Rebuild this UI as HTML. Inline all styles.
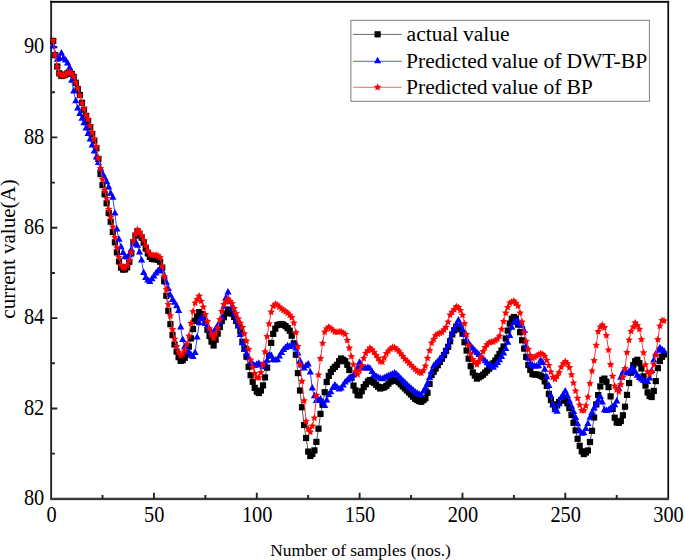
<!DOCTYPE html>
<html><head><meta charset="utf-8"><style>
html,body{margin:0;padding:0;background:#fff;}
svg{display:block;}
text{font-family:"Liberation Serif",serif;fill:#000;}
</style></head><body>
<svg width="685" height="560" viewBox="0 0 685 560">
<defs>
<marker id="sq" markerUnits="userSpaceOnUse" markerWidth="10" markerHeight="10" refX="5" refY="5" overflow="visible"><rect x="1.90" y="1.90" width="6.2" height="6.2" fill="#000"/></marker>
<marker id="tr" markerUnits="userSpaceOnUse" markerWidth="10" markerHeight="10" refX="5" refY="5" overflow="visible"><path d="M5 0.40000000000000036L8.6 6.9H1.4Z" fill="#0000ff"/></marker>
<marker id="st" markerUnits="userSpaceOnUse" markerWidth="10" markerHeight="10" refX="5" refY="5" overflow="visible"><path d="M5.00 1.00L6.09 3.50L8.80 3.76L6.76 5.57L7.35 8.24L5.00 6.85L2.65 8.24L3.24 5.57L1.20 3.76L3.91 3.50Z" fill="#ff0000"/></marker>
</defs>
<rect x="50.22" y="0.86" width="1.85" height="498" fill="#202020"/>
<rect x="667.35" y="0.86" width="1.75" height="498" fill="#101010"/>
<rect x="50.22" y="0.86" width="618.88" height="2.0" fill="#111"/>
<rect x="50.22" y="497.74" width="618.88" height="2.43" fill="#3a3a3a"/>
<path d="M102.52 498.85V495.05M153.94 498.85V492.65M205.36 498.85V495.05M256.78 498.85V492.65M308.20 498.85V495.05M359.62 498.85V492.65M411.05 498.85V495.05M462.47 498.85V492.65M513.89 498.85V495.05M565.31 498.85V492.65M616.73 498.85V495.05M51.10 453.67H54.90M51.10 408.49H57.30M51.10 363.31H54.90M51.10 318.13H57.30M51.10 272.95H54.90M51.10 227.77H57.30M51.10 182.59H54.90M51.10 137.41H57.30M51.10 92.23H54.90M51.10 47.05H57.30" stroke="#222" stroke-width="1.9" fill="none"/>
<g font-size="21"><text transform="translate(44.3 505.0) scale(0.97 1.07)" text-anchor="end">80</text><text transform="translate(44.3 414.6) scale(0.97 1.07)" text-anchor="end">82</text><text transform="translate(44.3 324.2) scale(0.97 1.07)" text-anchor="end">84</text><text transform="translate(44.3 233.9) scale(0.97 1.07)" text-anchor="end">86</text><text transform="translate(44.3 143.5) scale(0.97 1.07)" text-anchor="end">88</text><text transform="translate(44.3 53.2) scale(0.97 1.07)" text-anchor="end">90</text><text transform="translate(51.5 521.8) scale(0.97 1.07)" text-anchor="middle">0</text><text transform="translate(154.3 521.8) scale(0.97 1.07)" text-anchor="middle">50</text><text transform="translate(257.2 521.8) scale(0.97 1.07)" text-anchor="middle">100</text><text transform="translate(360.0 521.8) scale(0.97 1.07)" text-anchor="middle">150</text><text transform="translate(462.9 521.8) scale(0.97 1.07)" text-anchor="middle">200</text><text transform="translate(565.7 521.8) scale(0.97 1.07)" text-anchor="middle">250</text><text transform="translate(668.5 521.8) scale(0.97 1.07)" text-anchor="middle">300</text></g>
<text x="360.5" y="556.3" font-size="17.4" text-anchor="middle">Number of samples (nos.)</text>
<text transform="translate(15 249) rotate(-90)" font-size="21" text-anchor="middle">current value(A)</text>
<polyline points="53.2,41.0 55.2,55.2 57.3,66.5 59.3,73.3 61.4,76.0 63.4,75.4 65.5,74.6 67.6,73.2 69.6,72.3 71.7,73.9 73.7,76.9 75.8,82.8 77.8,89.0 79.9,95.0 82.0,102.8 84.0,109.7 86.1,115.9 88.1,121.5 90.2,127.1 92.2,133.8 94.3,140.7 96.4,148.3 98.4,158.9 100.5,174.1 102.5,185.1 104.6,194.2 106.6,203.3 108.7,213.0 110.7,221.7 112.8,232.0 114.9,242.3 116.9,252.4 119.0,261.5 121.0,267.6 123.1,269.6 125.1,269.4 127.2,267.3 129.3,261.8 131.3,253.4 133.4,242.2 135.4,235.7 137.5,231.3 139.5,234.1 141.6,237.7 143.7,242.7 145.7,248.5 147.8,253.4 149.8,256.9 151.9,258.9 153.9,259.3 156.0,259.1 158.1,259.9 160.1,261.7 162.2,267.6 164.2,281.2 166.3,295.8 168.3,310.8 170.4,324.2 172.5,335.0 174.5,344.5 176.6,351.6 178.6,357.2 180.7,360.9 182.7,360.2 184.8,357.8 186.9,354.7 188.9,346.6 191.0,338.4 193.0,329.1 195.1,320.8 197.1,316.3 199.2,312.1 201.2,314.1 203.3,316.1 205.4,322.7 207.4,329.8 209.5,336.0 211.5,341.6 213.6,345.5 215.6,339.8 217.7,333.7 219.8,327.1 221.8,321.0 223.9,317.2 225.9,313.4 228.0,309.5 230.0,310.6 232.1,313.7 234.2,316.9 236.2,321.0 238.3,325.1 240.3,331.3 242.4,341.8 244.4,348.3 246.5,356.7 248.6,366.8 250.6,375.2 252.7,381.8 254.7,387.9 256.8,391.6 258.8,393.0 260.9,390.5 263.0,385.4 265.0,377.4 267.1,367.7 269.1,355.6 271.2,342.9 273.2,333.9 275.3,328.7 277.4,325.1 279.4,324.4 281.5,324.0 283.5,324.8 285.6,326.1 287.6,328.1 289.7,330.7 291.7,335.7 293.8,343.3 295.9,354.7 297.9,373.1 300.0,390.5 302.0,407.2 304.1,425.0 306.1,438.0 308.2,451.6 310.3,456.0 312.3,454.0 314.4,450.4 316.4,441.9 318.5,428.7 320.5,413.9 322.6,404.7 324.7,392.2 326.7,382.0 328.8,375.9 330.8,372.0 332.9,368.9 334.9,366.9 337.0,364.8 339.1,361.2 341.1,358.5 343.2,359.8 345.2,361.2 347.3,364.8 349.3,370.0 351.4,377.8 353.5,385.6 355.5,390.4 357.6,395.1 359.6,395.4 361.7,391.3 363.7,387.1 365.8,384.3 367.9,381.5 369.9,380.0 372.0,381.4 374.0,382.8 376.1,384.7 378.1,386.7 380.2,388.5 382.3,387.8 384.3,387.2 386.4,385.8 388.4,383.7 390.5,381.6 392.5,380.8 394.6,380.1 396.6,380.2 398.7,382.3 400.8,384.3 402.8,386.4 404.9,388.4 406.9,390.5 409.0,392.5 411.0,394.6 413.1,396.7 415.2,398.8 417.2,400.1 419.3,401.1 421.3,401.8 423.4,400.1 425.4,398.3 427.5,392.8 429.6,383.9 431.6,375.1 433.7,371.8 435.7,368.5 437.8,365.2 439.8,361.9 441.9,358.7 444.0,355.1 446.0,351.0 448.1,346.9 450.1,341.3 452.2,334.5 454.2,330.3 456.3,326.6 458.4,326.7 460.4,329.3 462.5,333.7 464.5,342.2 466.6,350.5 468.6,358.7 470.7,366.1 472.8,372.4 474.8,375.6 476.9,378.6 478.9,377.3 481.0,376.1 483.0,374.7 485.1,372.6 487.1,370.6 489.2,368.6 491.3,366.0 493.3,363.3 495.4,360.5 497.4,357.5 499.5,354.0 501.5,350.5 503.6,346.5 505.7,338.5 507.7,330.6 509.8,323.6 511.8,318.7 513.9,317.0 515.9,318.5 518.0,324.6 520.1,332.2 522.1,340.3 524.2,348.6 526.2,356.9 528.3,365.0 530.3,369.9 532.4,374.1 534.5,374.5 536.5,374.5 538.6,374.9 540.6,375.7 542.7,377.0 544.7,381.4 546.8,385.9 548.9,393.9 550.9,400.1 553.0,404.3 555.0,407.4 557.1,405.4 559.1,401.9 561.2,400.0 563.3,398.4 565.3,400.7 567.4,403.3 569.4,408.1 571.5,415.0 573.5,422.8 575.6,430.4 577.6,438.8 579.7,445.8 581.8,451.3 583.8,454.1 585.9,452.5 587.9,450.5 590.0,442.0 592.0,430.8 594.1,417.5 596.2,404.5 598.2,395.1 600.3,386.4 602.3,379.9 604.4,378.6 606.4,381.8 608.5,387.1 610.6,396.4 612.6,408.9 614.7,417.7 616.7,422.5 618.8,422.8 620.8,421.0 622.9,415.3 625.0,406.7 627.0,394.9 629.1,383.0 631.1,372.7 633.2,365.2 635.2,361.2 637.3,359.8 639.4,363.2 641.4,368.5 643.5,376.3 645.5,385.6 647.6,392.4 649.6,396.0 651.7,397.0 653.8,390.9 655.8,381.1 657.9,368.1 659.9,360.9 662.0,356.8 664.0,354.5" fill="none" stroke="#555" stroke-width="1" marker-start="url(#sq)" marker-mid="url(#sq)" marker-end="url(#sq)"/>
<polyline points="53.2,46.5 55.2,54.5 57.3,59.9 59.3,58.9 61.4,53.5 63.4,58.5 65.5,60.5 67.6,63.6 69.6,68.1 71.7,80.8 73.7,91.6 75.8,101.4 77.8,108.6 79.9,114.2 82.0,118.8 84.0,123.4 86.1,128.7 88.1,134.1 90.2,139.7 92.2,145.5 94.3,151.5 96.4,157.6 98.4,163.2 100.5,168.8 102.5,174.0 104.6,178.1 106.6,182.2 108.7,187.6 110.7,193.8 112.8,197.8 114.9,213.5 116.9,229.6 119.0,239.8 121.0,247.3 123.1,253.0 125.1,257.1 127.2,257.6 129.3,255.6 131.3,250.1 133.4,244.6 135.4,242.3 137.5,245.9 139.5,252.5 141.6,260.6 143.7,273.2 145.7,278.0 147.8,280.5 149.8,282.0 151.9,279.4 153.9,276.7 156.0,273.5 158.1,271.0 160.1,269.0 162.2,271.5 164.2,276.2 166.3,282.8 168.3,289.2 170.4,295.5 172.5,300.1 174.5,302.9 176.6,306.3 178.6,311.2 180.7,327.5 182.7,340.0 184.8,346.8 186.9,349.8 188.9,352.7 191.0,355.2 193.0,357.2 195.1,353.0 197.1,337.5 199.2,323.4 201.2,317.9 203.3,319.4 205.4,323.5 207.4,326.7 209.5,329.8 211.5,332.8 213.6,332.6 215.6,329.3 217.7,326.0 219.8,322.6 221.8,317.8 223.9,306.9 225.9,298.4 228.0,292.7 230.0,302.3 232.1,308.7 234.2,314.6 236.2,320.6 238.3,326.7 240.3,335.0 242.4,343.3 244.4,350.1 246.5,354.2 248.6,358.4 250.6,362.5 252.7,364.5 254.7,366.1 256.8,364.9 258.8,363.8 260.9,365.6 263.0,367.4 265.0,364.4 267.1,360.8 269.1,355.9 271.2,356.1 273.2,360.2 275.3,360.7 277.4,360.0 279.4,356.7 281.5,353.1 283.5,350.2 285.6,348.2 287.6,346.3 289.7,347.0 291.7,345.8 293.8,344.9 295.9,348.5 297.9,353.7 300.0,361.3 302.0,365.8 304.1,368.6 306.1,366.2 308.2,364.7 310.3,372.5 312.3,388.7 314.4,396.3 316.4,401.1 318.5,400.7 320.5,399.5 322.6,402.9 324.7,406.2 326.7,400.7 328.8,395.2 330.8,392.3 332.9,388.2 334.9,385.5 337.0,387.5 339.1,389.6 341.1,388.5 343.2,385.6 345.2,382.7 347.3,380.6 349.3,379.3 351.4,378.0 353.5,375.7 355.5,373.4 357.6,368.2 359.6,362.9 361.7,365.8 363.7,368.7 365.8,368.6 367.9,368.2 369.9,368.9 372.0,372.1 374.0,375.2 376.1,376.8 378.1,377.8 380.2,378.8 382.3,379.4 384.3,378.4 386.4,377.4 388.4,376.3 390.5,375.4 392.5,374.5 394.6,373.7 396.6,374.8 398.7,376.9 400.8,379.0 402.8,381.0 404.9,383.1 406.9,385.1 409.0,387.1 411.0,388.9 413.1,390.7 415.2,392.5 417.2,393.8 419.3,394.8 421.3,395.3 423.4,391.9 425.4,388.4 427.5,383.8 429.6,378.0 431.6,372.2 433.7,366.4 435.7,364.0 437.8,362.0 439.8,359.9 441.9,357.3 444.0,354.0 446.0,350.7 448.1,345.5 450.1,339.2 452.2,333.8 454.2,329.4 456.3,324.9 458.4,320.7 460.4,325.4 462.5,330.0 464.5,335.0 466.6,340.1 468.6,343.9 470.7,346.3 472.8,348.8 474.8,351.0 476.9,353.1 478.9,355.2 481.0,357.3 483.0,359.3 485.1,361.3 487.1,363.4 489.2,365.0 491.3,366.7 493.3,367.9 495.4,365.5 497.4,363.0 499.5,360.3 501.5,357.0 503.6,353.7 505.7,349.0 507.7,342.8 509.8,336.1 511.8,327.9 513.9,323.2 515.9,321.4 518.0,321.5 520.1,323.9 522.1,326.3 524.2,331.2 526.2,346.6 528.3,358.9 530.3,364.2 532.4,365.7 534.5,366.6 536.5,366.6 538.6,366.4 540.6,360.9 542.7,363.0 544.7,369.8 546.8,377.3 548.9,386.2 550.9,396.1 553.0,405.4 555.0,410.4 557.1,411.9 559.1,404.3 561.2,398.2 563.3,394.9 565.3,391.5 567.4,396.4 569.4,401.6 571.5,406.8 573.5,412.1 575.6,418.2 577.6,424.4 579.7,431.2 581.8,433.9 583.8,433.3 585.9,429.1 587.9,424.0 590.0,417.8 592.0,413.2 594.1,408.7 596.2,404.6 598.2,400.6 600.3,397.0 602.3,402.5 604.4,410.3 606.4,411.1 608.5,410.5 610.6,409.0 612.6,407.4 614.7,405.3 616.7,401.5 618.8,389.2 620.8,377.9 622.9,372.8 625.0,372.2 627.0,373.6 629.1,372.2 631.1,369.9 633.2,368.5 635.2,372.6 637.3,375.9 639.4,378.0 641.4,379.6 643.5,381.2 645.5,382.2 647.6,382.2 649.6,378.6 651.7,371.2 653.8,360.6 655.8,354.5 657.9,350.9 659.9,348.4 662.0,350.0 664.0,351.7" fill="none" stroke="#3a3aff" stroke-width="1" marker-start="url(#tr)" marker-mid="url(#tr)" marker-end="url(#tr)"/>
<polyline points="53.2,40.5 55.2,54.8 57.3,66.4 59.3,73.3 61.4,75.8 63.4,75.3 65.5,74.6 67.6,72.9 69.6,71.8 71.7,73.4 73.7,76.4 75.8,82.3 77.8,88.3 79.9,95.3 82.0,103.0 84.0,108.7 86.1,115.1 88.1,119.1 90.2,125.8 92.2,132.4 94.3,139.1 96.4,146.6 98.4,157.8 100.5,168.4 102.5,179.4 104.6,190.4 106.6,198.4 108.7,209.3 110.7,217.3 112.8,227.0 114.9,237.5 116.9,247.7 119.0,257.3 121.0,265.1 123.1,267.8 125.1,267.4 127.2,265.3 129.3,260.4 131.3,252.3 133.4,240.5 135.4,234.0 137.5,229.5 139.5,232.1 141.6,235.4 143.7,240.2 145.7,245.7 147.8,250.7 149.8,253.9 151.9,255.1 153.9,255.3 156.0,255.0 158.1,255.8 160.1,257.6 162.2,266.2 164.2,276.5 166.3,289.3 168.3,304.5 170.4,315.8 172.5,329.6 174.5,339.1 176.6,346.6 178.6,352.0 180.7,355.6 182.7,353.9 184.8,350.2 186.9,344.0 188.9,335.9 191.0,323.3 193.0,311.5 195.1,303.0 197.1,299.4 199.2,296.1 201.2,301.2 203.3,307.0 205.4,314.5 207.4,321.6 209.5,328.7 211.5,334.7 213.6,338.1 215.6,333.8 217.7,328.1 219.8,319.5 221.8,311.2 223.9,304.6 225.9,301.4 228.0,298.9 230.0,301.2 232.1,303.5 234.2,308.4 236.2,313.4 238.3,318.8 240.3,323.1 242.4,327.5 244.4,333.7 246.5,341.0 248.6,349.2 250.6,360.0 252.7,367.2 254.7,373.6 256.8,377.7 258.8,377.7 260.9,372.6 263.0,364.3 265.0,351.8 267.1,336.5 269.1,323.8 271.2,312.1 273.2,306.2 275.3,303.9 277.4,305.1 279.4,307.1 281.5,308.7 283.5,310.3 285.6,311.6 287.6,312.9 289.7,315.1 291.7,317.6 293.8,323.0 295.9,332.4 297.9,346.5 300.0,364.4 302.0,381.2 304.1,400.8 306.1,421.2 308.2,428.8 310.3,432.1 312.3,426.1 314.4,418.0 316.4,395.2 318.5,374.9 320.5,358.6 322.6,343.2 324.7,331.9 326.7,328.7 328.8,326.9 330.8,328.5 332.9,330.2 334.9,331.9 337.0,332.0 339.1,331.7 341.1,331.6 343.2,332.9 345.2,334.2 347.3,340.3 349.3,348.1 351.4,356.5 353.5,364.5 355.5,371.6 357.6,374.5 359.6,370.4 361.7,365.6 363.7,358.3 365.8,353.3 367.9,350.6 369.9,347.9 372.0,349.7 374.0,352.2 376.1,355.2 378.1,358.3 380.2,361.5 382.3,362.0 384.3,357.7 386.4,353.5 388.4,350.9 390.5,349.1 392.5,347.3 394.6,347.6 396.6,349.3 398.7,351.1 400.8,353.7 402.8,356.3 404.9,358.9 406.9,361.0 409.0,363.1 411.0,365.2 413.1,367.2 415.2,369.3 417.2,371.1 419.3,372.3 421.3,373.1 423.4,370.5 425.4,365.9 427.5,358.2 429.6,350.6 431.6,343.0 433.7,339.2 435.7,335.4 437.8,333.9 439.8,333.1 441.9,332.2 444.0,329.8 446.0,327.2 448.1,321.9 450.1,315.0 452.2,312.1 454.2,309.4 456.3,306.6 458.4,307.4 460.4,310.4 462.5,315.2 464.5,323.6 466.6,334.4 468.6,345.5 470.7,354.0 472.8,359.5 474.8,362.6 476.9,364.6 478.9,361.2 481.0,357.1 483.0,351.6 485.1,347.6 487.1,344.5 489.2,342.4 491.3,342.1 493.3,341.7 495.4,340.6 497.4,339.1 499.5,336.0 501.5,329.2 503.6,321.5 505.7,313.1 507.7,307.4 509.8,303.0 511.8,302.0 513.9,301.0 515.9,303.3 518.0,306.0 520.1,313.0 522.1,322.0 524.2,332.5 526.2,341.2 528.3,349.3 530.3,355.4 532.4,358.4 534.5,357.3 536.5,356.1 538.6,354.8 540.6,353.4 542.7,354.2 544.7,356.2 546.8,360.3 548.9,365.5 550.9,372.0 553.0,377.2 555.0,379.2 557.1,376.1 559.1,372.4 561.2,367.1 563.3,363.5 565.3,361.4 567.4,363.5 569.4,367.6 571.5,374.8 573.5,382.9 575.6,391.0 577.6,398.3 579.7,404.9 581.8,410.4 583.8,410.4 585.9,405.8 587.9,397.0 590.0,383.5 592.0,370.9 594.1,360.6 596.2,345.3 598.2,331.6 600.3,327.0 602.3,325.0 604.4,327.6 606.4,335.4 608.5,349.9 610.6,364.6 612.6,376.2 614.7,386.0 616.7,389.7 618.8,391.4 620.8,384.6 622.9,377.2 625.0,368.4 627.0,352.5 629.1,340.0 631.1,331.2 633.2,327.0 635.2,322.8 637.3,325.5 639.4,329.2 641.4,339.5 643.5,352.7 645.5,364.7 647.6,371.8 649.6,374.3 651.7,371.7 653.8,364.5 655.8,354.9 657.9,339.6 659.9,325.9 662.0,320.5 664.0,320.8" fill="none" stroke="#ff3a3a" stroke-width="1" marker-start="url(#st)" marker-mid="url(#st)" marker-end="url(#st)"/>
<rect x="350.9" y="20.3" width="298.5" height="81" fill="#fff" stroke="#808080" stroke-width="1"/>
<path d="M353.2 34.4H401.8" stroke="#666" stroke-width="1"/>
<rect x="374.50" y="31.20" width="6.2" height="6.2" fill="#000"/>
<path d="M353.2 61.3H401.8" stroke="#5858ff" stroke-width="1"/>
<path d="M377.6 56.699999999999996L381.20000000000005 63.199999999999996H374.0Z" fill="#0000ff"/>
<path d="M353.2 87.3H401.8" stroke="#ff6464" stroke-width="1"/>
<path d="M377.60 83.30L378.69 85.80L381.40 86.06L379.36 87.87L379.95 90.54L377.60 89.15L375.25 90.54L375.84 87.87L373.80 86.06L376.51 85.80Z" fill="#ff0000"/>
<g font-size="21.6">
<text y="41.1"><tspan x="406.6">actual</tspan><tspan x="462.9">value</tspan></text>
<text y="67.8"><tspan x="406.0">Predicted</tspan><tspan x="491.4">value</tspan><tspan x="543.5">of</tspan><tspan x="566.4">DWT-BP</tspan></text>
<text y="94.2"><tspan x="406.0">Predicted</tspan><tspan x="491.4">value</tspan><tspan x="543.5">of</tspan><tspan x="566.4">BP</tspan></text>
</g>
</svg>
</body></html>
